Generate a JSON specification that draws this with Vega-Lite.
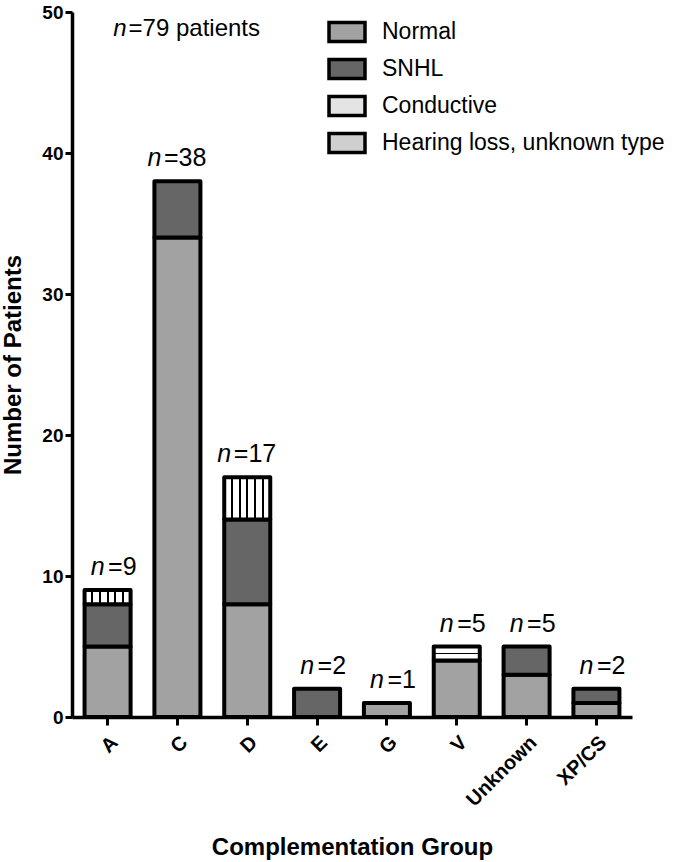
{
  "$schema": "https://vega.github.io/schema/vega-lite/v6.json",
  "width": 560,
  "height": 705,
  "autosize": {"type": "none"},
  "padding": {"left": 72, "top": 12, "right": 48, "bottom": 145},
  "background": "white",
  "config": {
    "view": {"stroke": null},
    "font": "Liberation Sans",
    "axis": {"grid": false, "domainColor": "black", "tickColor": "black", "labelColor": "black", "titleColor": "black", "labelFont": "Liberation Sans", "titleFont": "Liberation Sans"}
  },
  "datasets": {
    "bars": [
      {"group": "A", "hearing": "Normal", "k": 1, "count": 5},
      {"group": "A", "hearing": "SNHL", "k": 2, "count": 3},
      {"group": "A", "hearing": "Hearing loss, unknown type", "k": 4, "count": 1},
      {"group": "C", "hearing": "Normal", "k": 1, "count": 34},
      {"group": "C", "hearing": "SNHL", "k": 2, "count": 4},
      {"group": "D", "hearing": "Normal", "k": 1, "count": 8},
      {"group": "D", "hearing": "SNHL", "k": 2, "count": 6},
      {"group": "D", "hearing": "Hearing loss, unknown type", "k": 4, "count": 3},
      {"group": "E", "hearing": "SNHL", "k": 2, "count": 2},
      {"group": "G", "hearing": "Normal", "k": 1, "count": 1},
      {"group": "V", "hearing": "Normal", "k": 1, "count": 4},
      {"group": "V", "hearing": "Conductive", "k": 3, "count": 1},
      {"group": "Unknown", "hearing": "Normal", "k": 1, "count": 3},
      {"group": "Unknown", "hearing": "SNHL", "k": 2, "count": 2},
      {"group": "XP/CS", "hearing": "Normal", "k": 1, "count": 1},
      {"group": "XP/CS", "hearing": "SNHL", "k": 2, "count": 1}
    ],
    "totals": [
      {"group": "A", "total": 9, "lab": "=9"},
      {"group": "C", "total": 38, "lab": "=38"},
      {"group": "D", "total": 17, "lab": "=17"},
      {"group": "E", "total": 2, "lab": "=2"},
      {"group": "G", "total": 1, "lab": "=1"},
      {"group": "V", "total": 5, "lab": "=5"},
      {"group": "Unknown", "total": 5, "lab": "=5"},
      {"group": "XP/CS", "total": 2, "lab": "=2"}
    ],
    "note": [{"t": "=79 patients"}]
  },
  "layer": [
    {
      "data": {"name": "bars"},
      "mark": {"type": "bar", "strokeWidth": 4, "strokeJoin": "round"},
      "encoding": {
        "x": {
          "field": "group", "type": "nominal",
          "scale": {"domain": ["A", "C", "D", "E", "G", "V", "Unknown", "XP/CS"], "paddingInner": 0.341, "paddingOuter": 0.18},
          "axis": {
            "title": "Complementation  Group", "titleFontSize": 24, "titleFontWeight": "bold", "titlePadding": 26,
            "labelAngle": -45, "labelFontSize": 20, "labelFontWeight": "bold", "labelPadding": 7,
            "tickSize": 8, "tickWidth": 3, "domainWidth": 3.5
          }
        },
        "y": {
          "field": "count", "type": "quantitative", "stack": "zero",
          "scale": {"domain": [0, 50], "nice": false},
          "axis": {
            "title": "Number of  Patients", "titleFontSize": 24, "titleFontWeight": "bold", "titlePadding": 16,
            "values": [0, 10, 20, 30, 40, 50], "labelFontSize": 19, "labelFontWeight": "bold", "labelPadding": 2,
            "tickSize": 7, "tickWidth": 3, "domainWidth": 3.5
          }
        },
        "fill": {
          "field": "hearing", "type": "nominal",
          "condition": [
            {"test": "datum.hearing === 'Conductive'", "value": {"gradient": "linear", "x1": 0, "y1": 0, "x2": 0, "y2": 1, "stops": [
                {"offset": 0, "color": "white"}, {"offset": 0.44, "color": "white"}, {"offset": 0.44, "color": "black"},
                {"offset": 0.56, "color": "black"}, {"offset": 0.56, "color": "white"}, {"offset": 1, "color": "white"}]}},
            {"test": "datum.hearing === 'Hearing loss, unknown type'", "value": {"gradient": "linear", "x1": 0, "y1": 0, "x2": 1, "y2": 0, "stops": [
                {"offset": 0, "color": "white"}, {"offset": 0.145, "color": "white"}, {"offset": 0.145, "color": "black"},
                {"offset": 0.19, "color": "black"}, {"offset": 0.19, "color": "white"}, {"offset": 0.31, "color": "white"},
                {"offset": 0.31, "color": "black"}, {"offset": 0.355, "color": "black"}, {"offset": 0.355, "color": "white"},
                {"offset": 0.478, "color": "white"}, {"offset": 0.478, "color": "black"}, {"offset": 0.522, "color": "black"},
                {"offset": 0.522, "color": "white"}, {"offset": 0.645, "color": "white"}, {"offset": 0.645, "color": "black"},
                {"offset": 0.69, "color": "black"}, {"offset": 0.69, "color": "white"}, {"offset": 0.81, "color": "white"},
                {"offset": 0.81, "color": "black"}, {"offset": 0.855, "color": "black"}, {"offset": 0.855, "color": "white"},
                {"offset": 1, "color": "white"}]}}
          ],
          "scale": {
            "domain": ["Normal", "SNHL", "Conductive", "Hearing loss, unknown type"],
            "range": ["#a2a2a2", "#666666", "#e4e4e4", "#cfcfcf"]
          },
          "legend": {
            "orient": "none", "legendX": 255, "legendY": 0, "title": null,
            "symbolType": "M-1,-0.53H1V0.53H-1Z", "symbolSize": 1296,
            "symbolStrokeWidth": 3.5, "symbolOpacity": 1,
            "labelFontSize": 23, "labelFont": "Liberation Sans", "labelColor": "black",
            "labelOffset": 15, "rowPadding": -5, "labelLimit": 400
          }
        },
        "stroke": {
          "field": "hearing", "type": "nominal",
          "scale": {
            "domain": ["Normal", "SNHL", "Conductive", "Hearing loss, unknown type"],
            "range": ["black", "black", "black", "black"]
          },
          "legend": {
            "orient": "none", "legendX": 255, "legendY": 0, "title": null,
            "symbolType": "M-1,-0.53H1V0.53H-1Z", "symbolSize": 1296,
            "symbolStrokeWidth": 3.5, "symbolOpacity": 1,
            "labelFontSize": 23, "labelFont": "Liberation Sans", "labelColor": "black",
            "labelOffset": 15, "rowPadding": -5, "labelLimit": 400
          }
        },
        "order": {"field": "k", "type": "quantitative"}
      }
    },
    {
      "data": {"name": "totals"},
      "transform": [{"filter": "datum.total < 10"}],
      "mark": {"type": "text", "align": "right", "baseline": "alphabetic", "dx": -3, "dy": -15, "fontSize": 25, "fontStyle": "italic", "color": "black"},
      "encoding": {
        "x": {"field": "group", "type": "nominal"},
        "y": {"field": "total", "type": "quantitative"},
        "text": {"value": "n"}
      }
    },
    {
      "data": {"name": "totals"},
      "transform": [{"filter": "datum.total >= 10"}],
      "mark": {"type": "text", "align": "right", "baseline": "alphabetic", "dx": -16, "dy": -15, "fontSize": 25, "fontStyle": "italic", "color": "black"},
      "encoding": {
        "x": {"field": "group", "type": "nominal"},
        "y": {"field": "total", "type": "quantitative"},
        "text": {"value": "n"}
      }
    },
    {
      "data": {"name": "totals"},
      "mark": {"type": "text", "align": "right", "baseline": "alphabetic", "dx": 29, "dy": -15, "fontSize": 25, "color": "black"},
      "encoding": {
        "x": {"field": "group", "type": "nominal"},
        "y": {"field": "total", "type": "quantitative"},
        "text": {"field": "lab"}
      }
    },
    {
      "data": {"name": "note"},
      "mark": {"type": "text", "align": "right", "baseline": "alphabetic", "dx": 19, "fontSize": 24, "fontStyle": "italic", "color": "black"},
      "encoding": {
        "x": {"datum": "A", "type": "nominal"},
        "y": {"datum": 48.3, "type": "quantitative"},
        "text": {"value": "n"}
      }
    },
    {
      "data": {"name": "note"},
      "mark": {"type": "text", "align": "left", "baseline": "alphabetic", "dx": 21, "fontSize": 24, "color": "black"},
      "encoding": {
        "x": {"datum": "A", "type": "nominal"},
        "y": {"datum": 48.3, "type": "quantitative"},
        "text": {"field": "t"}
      }
    }
  ]
}
